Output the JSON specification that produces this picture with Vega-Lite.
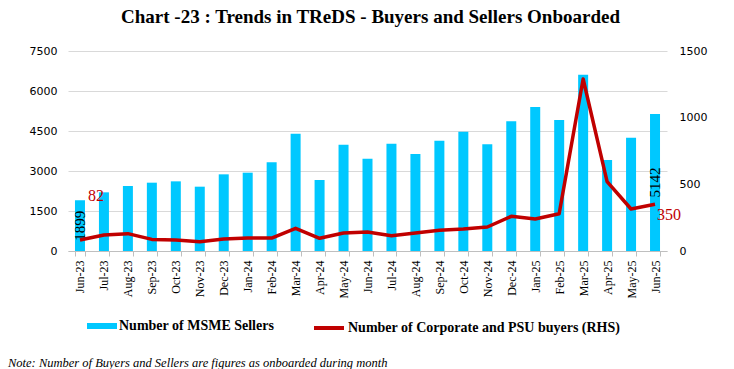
{
  "$schema": "https://vega.github.io/schema/vega-lite/v6.json",
  "padding": {"left": 8, "right": 10, "top": 8, "bottom": 4},
  "background": "white",
  "title": {
    "text": "Note: Number of Buyers and Sellers are figures as onboarded during month",
    "orient": "bottom",
    "anchor": "start",
    "frame": "group",
    "font": "Liberation Serif",
    "fontStyle": "italic",
    "fontWeight": "normal",
    "fontSize": 12.5,
    "color": "#000000",
    "dx": -60,
    "offset": 21
  },
  "vconcat": [
    {
      "title": {
        "text": "Chart -23 : Trends in TReDS - Buyers and Sellers Onboarded",
        "font": "Liberation Serif",
        "fontWeight": "bold",
        "fontSize": 19,
        "color": "#000000",
        "anchor": "middle",
        "frame": "group",
        "dx": 3,
        "offset": 18
      },
      "width": 599,
      "height": 200,
      "data": {
        "values": [
          {"month": "Jun-23", "sellers": 1899, "buyers": 82, "sLabel": "1899", "bLabel": "82"},
          {"month": "Jul-23", "sellers": 2200, "buyers": 120},
          {"month": "Aug-23", "sellers": 2437, "buyers": 130},
          {"month": "Sep-23", "sellers": 2562, "buyers": 87},
          {"month": "Oct-23", "sellers": 2612, "buyers": 82},
          {"month": "Nov-23", "sellers": 2412, "buyers": 70},
          {"month": "Dec-23", "sellers": 2875, "buyers": 90},
          {"month": "Jan-24", "sellers": 2937, "buyers": 97},
          {"month": "Feb-24", "sellers": 3325, "buyers": 97},
          {"month": "Mar-24", "sellers": 4400, "buyers": 170},
          {"month": "Apr-24", "sellers": 2662, "buyers": 95},
          {"month": "May-24", "sellers": 3987, "buyers": 135},
          {"month": "Jun-24", "sellers": 3462, "buyers": 142},
          {"month": "Jul-24", "sellers": 4025, "buyers": 115},
          {"month": "Aug-24", "sellers": 3637, "buyers": 135},
          {"month": "Sep-24", "sellers": 4137, "buyers": 155},
          {"month": "Oct-24", "sellers": 4475, "buyers": 165},
          {"month": "Nov-24", "sellers": 4000, "buyers": 180},
          {"month": "Dec-24", "sellers": 4862, "buyers": 260},
          {"month": "Jan-25", "sellers": 5400, "buyers": 240},
          {"month": "Feb-25", "sellers": 4912, "buyers": 280},
          {"month": "Mar-25", "sellers": 6612, "buyers": 1290},
          {"month": "Apr-25", "sellers": 3412, "buyers": 520},
          {"month": "May-25", "sellers": 4250, "buyers": 315},
          {"month": "Jun-25", "sellers": 5142, "buyers": 350, "sLabel": "5142", "bLabel": "350"}
        ]
      },
      "encoding": {
        "x": {
          "field": "month",
          "type": "nominal",
          "sort": null,
          "scale": {"paddingInner": 0.58, "paddingOuter": 0.29},
          "axis": {
            "title": null,
            "labelAngle": 270,
            "labelFont": "Liberation Serif",
            "labelFontSize": 12,
            "labelColor": "#000000",
            "labelPadding": 4,
            "domainColor": "#bfbfbf",
            "tickColor": "#bfbfbf",
            "tickSize": 5,
            "tickBand": "extent",
            "grid": false
          }
        }
      },
      "layer": [
        {
          "encoding": {
            "y": {
              "type": "quantitative",
              "scale": {"domain": [0, 7500]},
              "axis": {
                "title": null,
                "values": [0, 1500, 3000, 4500, 6000, 7500],
                "format": "d",
                "domain": false,
                "ticks": false,
                "labelPadding": 11,
                "labelFont": "DejaVu Sans",
                "labelFontSize": 11,
                "labelColor": "#000000",
                "gridColor": "#d9d9d9",
                "grid": true
              }
            }
          },
          "layer": [
            {
              "mark": {"type": "bar", "size": 10},
              "encoding": {
                "y": {"field": "sellers"},
                "fill": {
                  "datum": "Number of MSME Sellers",
                  "scale": {"range": ["#00C8FF"]},
                  "legend": {
                    "title": null,
                    "orient": "none",
                    "legendX": 19,
                    "legendY": 260,
                    "symbolType": "M-1,-0.2H1V0.2H-1Z",
                    "symbolSize": 900,
                    "symbolStrokeWidth": 0
                  }
                }
              }
            },
            {
              "transform": [
                {"filter": "datum.sLabel"},
                {"calculate": "datum.sellers / 2", "as": "mid"}
              ],
              "mark": {"type": "text", "angle": 270, "align": "center", "baseline": "middle", "font": "Liberation Serif", "fontSize": 15, "color": "#000000"},
              "encoding": {
                "y": {"field": "mid"},
                "text": {"field": "sLabel"}
              }
            }
          ]
        },
        {
          "encoding": {
            "y": {
              "type": "quantitative",
              "scale": {"domain": [0, 1500]},
              "axis": {
                "orient": "right",
                "title": null,
                "values": [0, 500, 1000, 1500],
                "format": "d",
                "domain": false,
                "ticks": false,
                "grid": false,
                "labelPadding": 12,
                "labelFont": "DejaVu Sans",
                "labelFontSize": 11,
                "labelColor": "#000000"
              }
            }
          },
          "layer": [
            {
              "mark": {"type": "line", "strokeWidth": 3.5, "strokeJoin": "round"},
              "encoding": {
                "y": {"field": "buyers"},
                "stroke": {
                  "datum": "Number of Corporate and PSU buyers (RHS)",
                  "scale": {"range": ["#C00000"]},
                  "legend": {
                    "title": null,
                    "orient": "none",
                    "legendX": 244,
                    "legendY": 260,
                    "symbolType": "stroke",
                    "symbolSize": 900,
                    "symbolStrokeWidth": 4
                  }
                }
              }
            },
            {
              "transform": [{"filter": "datum.bLabel == '82'"}],
              "mark": {"type": "text", "align": "left", "baseline": "alphabetic", "dx": 8, "dy": -39, "font": "Liberation Serif", "fontSize": 16, "color": "#C00000"},
              "encoding": {
                "y": {"field": "buyers"},
                "text": {"field": "bLabel"}
              }
            },
            {
              "transform": [{"filter": "datum.bLabel == '350'"}],
              "mark": {"type": "text", "align": "left", "baseline": "top", "dx": 2, "dy": 3, "font": "Liberation Serif", "fontSize": 16, "color": "#C00000"},
              "encoding": {
                "y": {"field": "buyers"},
                "text": {"field": "bLabel"}
              }
            }
          ]
        }
      ],
      "resolve": {"scale": {"y": "independent"}}
    }
  ],
  "config": {
    "view": {"stroke": null},
    "legend": {
      "labelFont": "Liberation Serif",
      "labelFontWeight": "bold",
      "labelFontSize": 14,
      "labelColor": "#000000",
      "labelLimit": 400,
      "labelOffset": 2
    }
  }
}
